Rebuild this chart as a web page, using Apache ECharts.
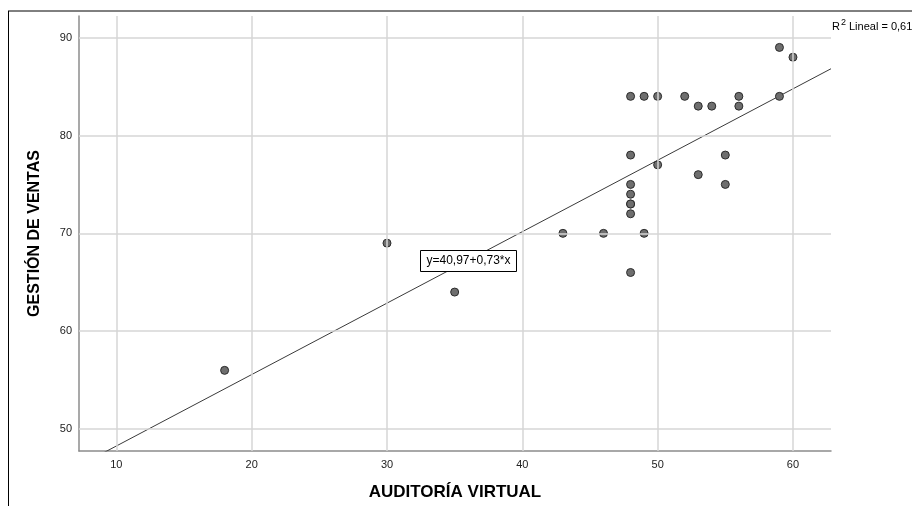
<!DOCTYPE html>
<html><head><meta charset="utf-8">
<script src="https://cdn.jsdelivr.net/npm/echarts@6/dist/echarts.min.js"></script>
<style>html,body{margin:0;padding:0;background:#fff}#c{width:912px;height:506px}</style>
</head><body><div id="c"></div>
<script>
// Data
const auditoriaVirtual = [18,30,35,43,46,48,48,48,48,48,48,48,48,49,49,50,50,52,53,53,54,55,55,56,56,59,59,60];
const gestionVentas    = [56,69,64,70,70,84,78,75,74,73,72,66,73,84,70,84,77,84,83,76,83,78,75,84,83,89,84,88];
const xTicks = [10,20,30,40,50,60];
const yTicks = [50,60,70,80,90];
const intercept = 40.97;
const slope = 0.73;
const r2Text = '0,61';
const xTitle = 'AUDITORÍA VIRTUAL';
const yTitle = 'GESTIÓN DE VENTAS';

const xMin = 7.24, xMax = 62.81, yMin = 47.76, yMax = 92.21;
const points = auditoriaVirtual.map((x,i)=>[x, gestionVentas[i]]);
const fitLine = [[xMin, intercept + slope*xMin],[xMax, intercept + slope*xMax]];
const gridLines = xTicks.map(v=>({xAxis:v})).concat(yTicks.map(v=>({yAxis:v})));
const fmt = v => (xTicks.includes(v) || yTicks.includes(v)) ? String(v) : '';

const chart = echarts.init(document.getElementById('c'), null, {renderer:'canvas'});
chart.setOption({
  animation:false,
  backgroundColor:'#fff',
  title:{
    left:832, top:18, padding:0,
    text:'{r|R}{s|2}{r| Lineal = ' + r2Text + '}',
    textStyle:{fontWeight:'normal',rich:{
      r:{fontFamily:'Liberation Sans, Arial',fontSize:11,fontWeight:'normal',color:'#000',verticalAlign:'bottom',lineHeight:14},
      s:{fontFamily:'Liberation Sans, Arial',fontSize:9,fontWeight:'normal',color:'#000',verticalAlign:'top',padding:[0,0,6,1],lineHeight:14}
    }}
  },
  grid:{left:79,right:81,top:16,bottom:54,containLabel:false},
  xAxis:{
    type:'value',min:xMin,max:xMax,
    name:xTitle,nameLocation:'middle',nameGap:33,
    nameTextStyle:{fontFamily:'Liberation Sans, Arial',fontSize:17,fontWeight:'bold',color:'#000'},
    axisLine:{show:true,lineStyle:{color:'#8c8c8c',width:1.5}},
    axisTick:{show:false},
    splitLine:{show:false},
    axisLabel:{formatter:fmt,showMinLabel:false,showMaxLabel:false,fontFamily:'Liberation Sans, Arial',fontSize:11,color:'#222',margin:8}
  },
  yAxis:{
    type:'value',min:yMin,max:yMax,
    name:yTitle,nameLocation:'middle',nameGap:36,nameRotate:90,
    nameTextStyle:{fontFamily:'Liberation Sans, Arial',fontSize:16,fontWeight:'bold',color:'#000'},
    axisLine:{show:true,lineStyle:{color:'#8c8c8c',width:1.5}},
    axisTick:{show:false},
    splitLine:{show:false},
    axisLabel:{formatter:fmt,showMinLabel:false,showMaxLabel:false,fontFamily:'Liberation Sans, Arial',fontSize:11,color:'#222',margin:7}
  },
  series:[
    {
      type:'scatter',data:[],z:1,silent:true,
      markLine:{
        silent:true,symbol:['none','none'],animation:false,
        label:{show:false},
        lineStyle:{color:'#d6d6d6',width:1.5,type:'solid'},
        emphasis:{disabled:true},
        data:gridLines
      }
    },
    {
      type:'line',data:fitLine,symbol:'none',z:3,silent:true,clip:true,
      lineStyle:{color:'#3a3a3a',width:1}
    },
    {
      type:'scatter',data:points,symbol:'circle',symbolSize:8,z:4,
      itemStyle:{color:'#6e6e6e',borderColor:'#2b2b2b',borderWidth:1,opacity:1}
    }
  ],
  graphic:[
    {type:'line',shape:{x1:8,y1:11,x2:912,y2:11},style:{stroke:'#000',lineWidth:1},z:10},
    {type:'line',shape:{x1:8.5,y1:11,x2:8.5,y2:506},style:{stroke:'#000',lineWidth:1},z:10},
    {type:'rect',shape:{x:420.5,y:250.5,width:96,height:21},style:{fill:'#fff',stroke:'#000',lineWidth:1},z:20},
    {type:'text',x:468.5,y:261,style:{text:'y=' + String(intercept).replace('.',',') + '+' + String(slope).replace('.',',') + '*x',
      fontFamily:'Liberation Sans, Arial',fontSize:12,fill:'#000',align:'center',verticalAlign:'middle'},z:21}
  ]
});
</script></body></html>
